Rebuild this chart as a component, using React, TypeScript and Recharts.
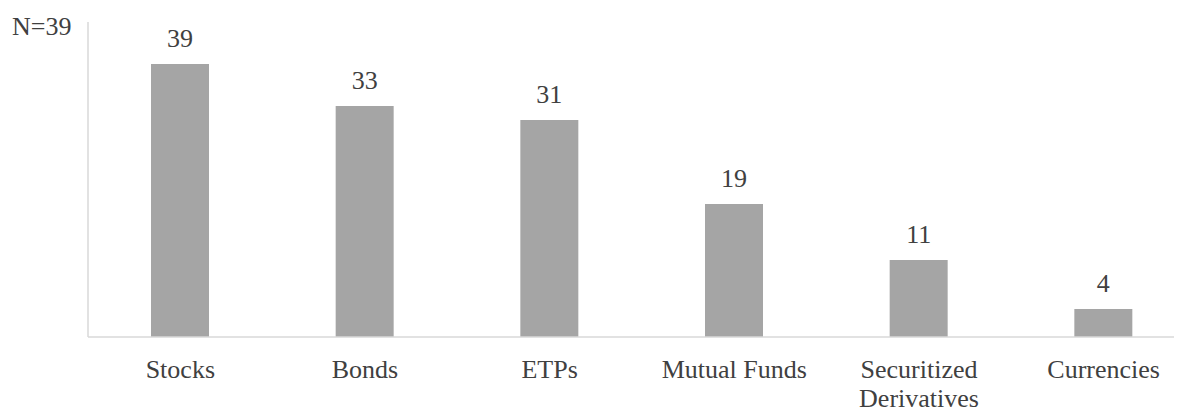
import { BarChart, Bar, XAxis, YAxis, LabelList, Customized } from "recharts";

const categories = ["Stocks", "Bonds", "ETPs", "Mutual Funds", "Securitized Derivatives", "Currencies"];
const counts = [39, 33, 31, 19, 11, 4];
const sampleNote = "N=39";

const data = categories.map((name, i) => ({ name, count: counts[i] }));

const textColor = "#404040";
const font = '"Times New Roman", "Liberation Serif", Tinos, serif';

// long labels wrap onto one word per line, like the original
const CategoryTick = (props: any) => {
  const { x, y, payload } = props;
  const label: string = payload.value;
  const lines = label.length > 16 ? label.split(" ") : [label];
  return (
    <text x={x} y={y} textAnchor="middle" fill={textColor} fontSize={26} style={{ fontFamily: font }}>
      {lines.map((line, i) => (
        <tspan key={i} x={x} dy={i === 0 ? 41 : 29}>
          {line}
        </tspan>
      ))}
    </text>
  );
};

const Note = () => (
  <text x={4} y={27} fill={textColor} fontSize={26} style={{ fontFamily: font }}>
    {sampleNote}
  </text>
);

export default function App() {
  return (
    <div style={{ width: 1174, height: 402, overflow: "hidden", fontFamily: font }}>
      <BarChart
        width={1200}
        height={402}
        data={data}
        margin={{ top: 14, right: 12, left: 79, bottom: 13 }}
        style={{ fontFamily: font }}
      >
        <XAxis
          dataKey="name"
          tickLine={false}
          tickSize={0}
          tickMargin={0}
          height={60}
          interval={0}
          stroke="#d9d9d9"
          strokeWidth={1.5}
          tick={<CategoryTick />}
        />
        <YAxis
          width={1}
          domain={[0, 45]}
          tick={false}
          tickLine={false}
          axisLine={{ stroke: "#d9d9d9", strokeWidth: 1.5 }}
        />
        <Bar dataKey="count" fill="#a5a5a5" barSize={58} isAnimationActive={false}>
          <LabelList
            dataKey="count"
            position="top"
            offset={17}
            fill={textColor}
            fontSize={26}
            style={{ fontFamily: font }}
          />
        </Bar>
        <Customized component={Note} />
      </BarChart>
    </div>
  );
}
